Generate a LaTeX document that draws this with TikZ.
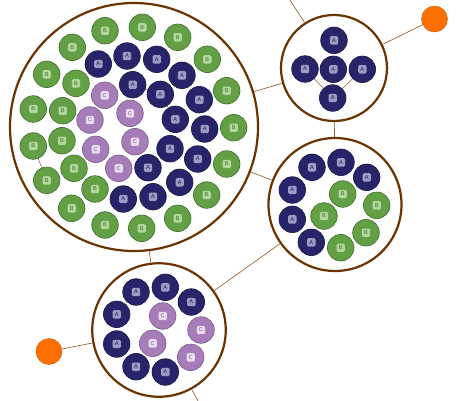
\documentclass[tikz,border=0pt]{standalone}
\usepackage{fontspec}
\setsansfont{Liberation Sans}
\definecolor{colA}{HTML}{28246A}
\definecolor{colAd}{HTML}{1A1745}
\definecolor{boxA}{HTML}{9C9CC6}
\definecolor{colB}{HTML}{63A045}
\definecolor{colBd}{HTML}{3F6E2B}
\definecolor{boxB}{HTML}{B2D69C}
\definecolor{colC}{HTML}{A67DB8}
\definecolor{colCd}{HTML}{7B5A8A}
\definecolor{boxC}{HTML}{EADCF0}
\definecolor{ringc}{HTML}{6B3300}
\definecolor{edgec}{HTML}{8B5A2B}
\definecolor{orng}{HTML}{FF6F00}
\definecolor{orngd}{HTML}{C85500}
\tikzset{
  smallc/.style={circle, minimum size=26.6pt, inner sep=0pt, line width=0.6pt},
  lbox/.style={rounded corners=1.4pt, minimum size=8.4pt, inner sep=0.5pt, font=\fontsize{5.6}{5.6}\selectfont\sffamily},
  anode/.style={smallc, fill=colA, draw=colAd, label={[lbox, fill=boxA, text=colAd]center:A}},
  bnode/.style={smallc, fill=colB, draw=colBd, label={[lbox, fill=boxB, text=colBd]center:B}},
  cnode/.style={smallc, fill=colC, draw=colCd, label={[lbox, fill=boxC, text=colCd]center:C}},
  ring/.style={circle, draw=ringc, fill=white, line width=2.2pt, inner sep=0pt},
  orb/.style={circle, fill=orng, draw=orngd, line width=0.4pt, minimum size=26pt, inner sep=0pt},
  link/.style={draw=edgec, line width=0.6pt},
  inlink/.style={draw=edgec, line width=0.5pt}
}
\begin{document}
\begin{tikzpicture}[x=1pt,y=-1pt]
\clip (0,0) rectangle (460,400);
\fill[white] (0,0) rectangle (460,400);
% big circles
\node[ring, minimum size=248pt] (g1) at (134,127) {};
\node[ring, minimum size=106pt] (g2) at (334,68) {};
\node[ring, minimum size=133pt] (g3) at (335,204.5) {};
\node[ring, minimum size=133.5pt] (g4) at (159,330) {};
\node[orb] (o1) at (434.5,19) {};
\node[orb] (o2) at (49,351.5) {};
\coordinate (far1) at (277,-20);
\coordinate (far2) at (208.5,420);
% connectors
\path[link] (g1) -- (g2);
\path[link] (g1) -- (g3);
\path[link] (g1) -- (g4);
\path[link] (g2) -- (g3);
\path[link] (g3) -- (g4);
\path[link] (g2) -- (o1);
\path[link] (g4) -- (o2);
\path[link] (g2) -- (far1);
\path[link] (g4) -- (far2);
% group 1
\node[bnode] (b1) at (105,30.7) {};
\node[bnode] (b2) at (142.3,27.3) {};
\node[bnode] (b3) at (177.7,37.3) {};
\node[bnode] (b4) at (72.3,47.3) {};
\node[bnode] (b5) at (207.3,59.3) {};
\node[bnode] (b6) at (46.7,74.3) {};
\node[bnode] (b7) at (76,83.3) {};
\node[bnode] (b8) at (226.7,90.7) {};
\node[bnode] (b9) at (33.3,109) {};
\node[bnode] (b10) at (62.7,110.7) {};
\node[bnode] (b11) at (233.7,127.7) {};
\node[bnode] (b12) at (33.3,146) {};
\node[bnode] (b13) at (62,140.7) {};
\node[bnode] (b14) at (226.7,164) {};
\node[bnode] (b15) at (46.7,180.3) {};
\node[bnode] (b16) at (74,168.3) {};
\node[bnode] (b17) at (95,189) {};
\node[bnode] (b18) at (206.7,195) {};
\node[bnode] (b19) at (71.7,208.3) {};
\node[bnode] (b20) at (105,225) {};
\node[bnode] (b21) at (141.7,228.3) {};
\node[bnode] (b22) at (177.7,218.3) {};
\node[anode] (a1) at (98.3,64) {};
\node[anode] (a2) at (127,56) {};
\node[anode] (a3) at (156.7,59.3) {};
\node[anode] (a4) at (182,75.3) {};
\node[anode] (a5) at (132.7,84.7) {};
\node[anode] (a6) at (160.3,94.3) {};
\node[anode] (a7) at (199.3,99.7) {};
\node[anode] (a8) at (175.3,119.3) {};
\node[anode] (a9) at (204.7,129) {};
\node[anode] (a10) at (170,148.7) {};
\node[anode] (a11) at (197.7,159) {};
\node[anode] (a12) at (148,167.7) {};
\node[anode] (a13) at (179.7,182.3) {};
\node[anode] (a14) at (123.3,199) {};
\node[anode] (a15) at (153,196.7) {};
\node[cnode] (c1) at (104.7,95.3) {};
\node[cnode] (c2) at (130,113.3) {};
\node[cnode] (c3) at (90,120) {};
\node[cnode] (c4) at (135,141.7) {};
\node[cnode] (c5) at (95.7,149.3) {};
\node[cnode] (c6) at (118.7,168.3) {};
\path[inlink] (b12) -- (b15);
\path[inlink] (a6) -- (a8);
\path[inlink] (a1) -- (a2);
\path[inlink] (a5) -- (a6);
% group 2
\node[anode] (d1) at (334,40.3) {};
\node[anode] (d2) at (305,69) {};
\node[anode] (d3) at (333.3,69.3) {};
\node[anode] (d4) at (362.3,69.3) {};
\node[anode] (d5) at (332.7,98) {};
\path[inlink] (d2) -- (d5);
\path[inlink] (d4) -- (d5);
% group 3
\node[anode] (e1) at (312,167.3) {};
\node[anode] (e2) at (341,162.3) {};
\node[anode] (e3) at (366.7,177.3) {};
\node[anode] (e4) at (292.3,190) {};
\node[anode] (e5) at (292.3,219.3) {};
\node[anode] (e6) at (311.3,242.3) {};
\node[bnode] (f1) at (342.7,194) {};
\node[bnode] (f2) at (376.7,205.3) {};
\node[bnode] (f3) at (324,216) {};
\node[bnode] (f4) at (366,232.7) {};
\node[bnode] (f5) at (340.7,247.7) {};
% group 4
\node[anode] (h1) at (136,292) {};
\node[anode] (h2) at (165.3,287.3) {};
\node[anode] (h3) at (191.3,302) {};
\node[anode] (h4) at (116.7,314.3) {};
\node[anode] (h5) at (116.7,344) {};
\node[anode] (h6) at (136,366.7) {};
\node[anode] (h7) at (165.3,372) {};
\node[cnode] (k1) at (162.7,316) {};
\node[cnode] (k2) at (201,330) {};
\node[cnode] (k3) at (152.7,343.3) {};
\node[cnode] (k4) at (190.7,357.3) {};
\end{tikzpicture}
\end{document}
